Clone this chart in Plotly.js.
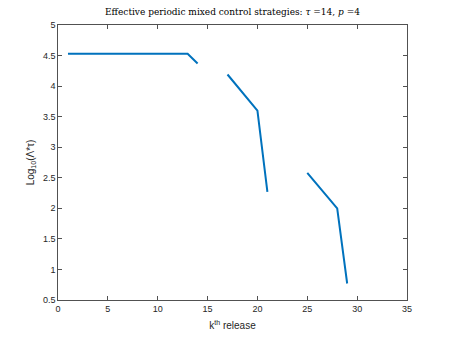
<!DOCTYPE html>
<html>
<head>
<meta charset="utf-8">
<script src="https://cdn.plot.ly/plotly-3.0.1.min.js"></script>
<style>
  html, body { margin: 0; padding: 0; background: #fff; }
  #chart { width: 450px; height: 338px; }
</style>
</head>
<body>
<div id="chart"></div>
<script>
	// release index and log10 values, gaps where no control applies
	const release = [1, 2, 3, 4, 5, 6, 7, 8, 9, 10, 11, 12, 13, 14, 15, 17, 20, 21, 22, 25, 28, 29];
	const logValue = [4.53, 4.53, 4.53, 4.53, 4.53, 4.53, 4.53, 4.53, 4.53, 4.53, 4.53, 4.53, 4.53, 4.37, null,
		4.19, 3.6, 2.27, null, 2.58, 2.0, 0.77];

	const xTicks = [0, 5, 10, 15, 20, 25, 30, 35];
	const yTicks = [0.5, 1, 1.5, 2, 2.5, 3, 3.5, 4, 4.5, 5];

	const axisGrey = '#262626';

	const axisBase = {
		showline: true,
		linecolor: axisGrey,
		linewidth: 0.8,
		mirror: 'ticks',
		ticks: 'inside',
		ticklen: 4,
		tickcolor: axisGrey,
		tickwidth: 0.8,
		showgrid: false,
		zeroline: false,
		tickfont: { family: 'Liberation Sans, Arial, sans-serif', size: 9, color: axisGrey },
	};

	const data = [{
		x: release,
		y: logValue,
		type: 'scatter',
		mode: 'lines',
		connectgaps: false,
		line: { color: '#0072BD', width: 2 },
		hoverinfo: 'x+y',
	}];

	const layout = {
		width: 450,
		height: 338,
		margin: { l: 58, r: 43, t: 25, b: 38 },
		paper_bgcolor: '#fff',
		plot_bgcolor: '#fff',
		showlegend: false,
		title: {
			text: 'Effective periodic mixed control strategies: <i>τ</i> =14, <i>p</i> =4',
			font: { family: 'DejaVu Serif, serif', size: 9, color: '#000' },
			x: 0.5,
			xref: 'paper',
			y: 0.965,
			yanchor: 'middle',
		},
		xaxis: Object.assign({}, axisBase, {
			range: [0, 35],
			tickvals: xTicks,
			title: {
				text: 'k<sup>th</sup> release',
				font: { family: 'Liberation Sans, Arial, sans-serif', size: 10, color: axisGrey },
				standoff: 9,
			},
		}),
		yaxis: Object.assign({}, axisBase, {
			range: [0.5, 5],
			tickvals: yTicks,
			title: {
				text: 'Log<sub>10</sub>(Λ*τ)',
				font: { family: 'Liberation Sans, Arial, sans-serif', size: 10, color: axisGrey },
				standoff: 6,
			},
		}),
	};

	Plotly.newPlot('chart', data, layout, { displayModeBar: false, staticPlot: true });
</script>
</body>
</html>
